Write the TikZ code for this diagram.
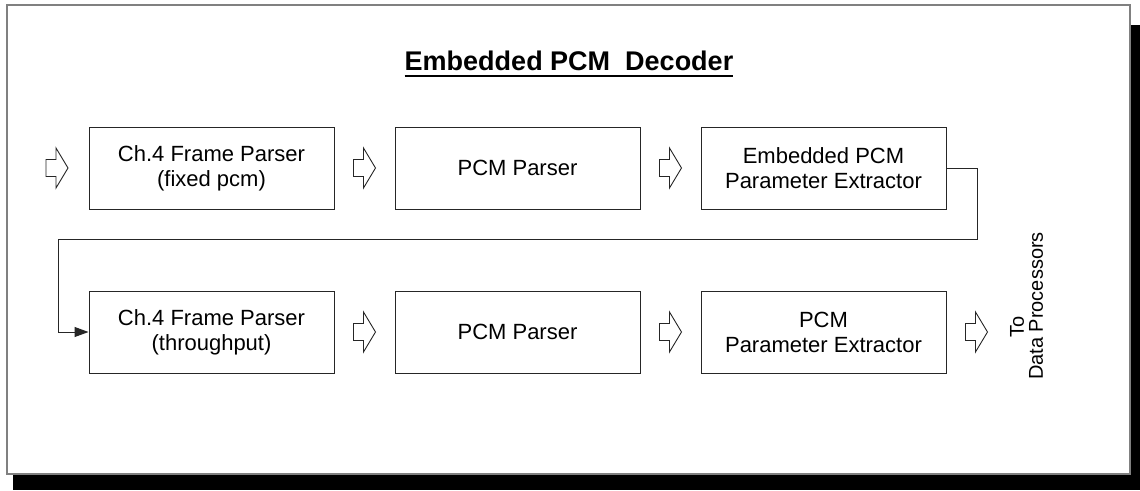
\documentclass[tikz,border=0pt]{standalone}
\usepackage{fontspec}
\setmainfont{Liberation Sans}
\usetikzlibrary{arrows.meta,calc}

\tikzset{
  stage/.style={draw=black!85, line width=1pt, minimum width=245pt, minimum height=82pt,
    inner sep=0pt, align=center, font=\fontsize{22}{25}\selectfont},
  flowline/.style={draw=black!85, line width=1pt},
  hollow/.pic={
    \draw[line width=0.9pt, black!85, fill=white]
      (-11,-8.5) -- (-1,-8.5) -- (-1,-20) -- (11,0) -- (-1,20) -- (-1,8.5) -- (-11,8.5) -- cycle;
  }
}

\begin{document}
\begin{tikzpicture}[x=1pt,y=-1pt]
  \useasboundingbox (0,0) rectangle (1140,490);

  % drop shadow and frame
  \fill[black] (13,25) rectangle (1140,490);
  \draw[fill=white, draw=gray, line width=2pt] (7,5) rectangle (1130,474);

  % title
  \node[font=\bfseries\fontsize{27}{30}\selectfont, inner sep=0pt, anchor=base] (title) at (569,70)
    {Embedded PCM\ \ Decoder};
  \draw[line width=2pt] ($(title.base west)+(0,5.5)$) -- ($(title.base east)+(0,5.5)$);

  % first row
  \node[stage] (b1) at (211.5,168) {Ch.4 Frame Parser\\(fixed pcm)};
  \node[stage] (b2) at (517.5,168) {PCM Parser};
  \node[stage] (b3) at (823.5,168) {Embedded PCM\\Parameter Extractor};

  % second row
  \node[stage] (b4) at (211.5,332) {Ch.4 Frame Parser\\(throughput)};
  \node[stage] (b5) at (517.5,332) {PCM Parser};
  \node[stage] (b6) at (823.5,332) {PCM\\Parameter Extractor};

  % output label
  \node[rotate=90, font=\fontsize{20}{22}\selectfont, inner sep=0pt] (to) at (1017,327) {To};
  \node[rotate=90, font=\fontsize{20}{22}\selectfont, inner sep=0pt] (dp) at (1036,306) {Data Processors};

  % hollow flow arrows
  \pic at ($(b1.west)+(-31.5,0)$) {hollow};
  \pic at ($(b1.east)!0.5!(b2.west)$) {hollow};
  \pic at ($(b2.east)!0.5!(b3.west)$) {hollow};
  \pic at ($(b4.east)!0.5!(b5.west)$) {hollow};
  \pic at ($(b5.east)!0.5!(b6.west)$) {hollow};
  \pic at ($(b6.east)+(30,0)$) {hollow};

  % loop from the first row back to the second
  \coordinate (loopR) at (977,239);
  \coordinate (loopL) at (58,239);
  \draw[flowline, -{Triangle[length=14pt,width=10pt]}]
    (b3.east) -| (loopR) -- (loopL) |- (b4.west);
\end{tikzpicture}
\end{document}
